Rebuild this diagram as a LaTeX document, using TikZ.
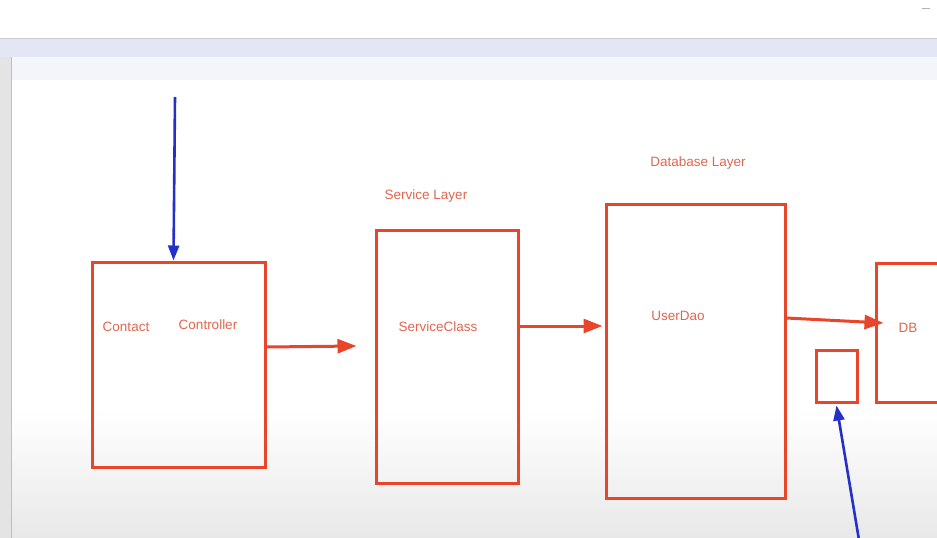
\documentclass[tikz,border=0pt]{standalone}
\usepackage{fontspec}
\setmainfont{Liberation Sans}
\usetikzlibrary{calc,arrows.meta}
\definecolor{boxred}{HTML}{E8452A}
\definecolor{txtred}{HTML}{E0664F}
\definecolor{penblue}{HTML}{2430C8}
\definecolor{barcol}{HTML}{E3E7F4}
\definecolor{stripcol}{HTML}{F4F5FB}
\definecolor{panelcol}{HTML}{E4E4E4}
\tikzset{
  layerbox/.style={draw=boxred, line width=3pt, rectangle, inner sep=0pt},
  lbl/.style={text=txtred, font=\fontsize{13.5}{15}\selectfont, inner sep=0pt},
  redarrow/.style={draw=boxred, line width=3pt, -{Triangle[length=19pt,width=14pt]}},
  bluearrow/.style={draw=penblue, line width=2.6pt, -{Triangle[length=15pt,width=11pt]}}
}
\begin{document}
\begin{tikzpicture}[x=1pt,y=-1pt]
\useasboundingbox (0,0) rectangle (937,538);
\clip (0,0) rectangle (937,538);
% window background
\fill[white] (0,0) rectangle (937,38);
\fill[barcol] (0,38) rectangle (937,57);
\fill[stripcol] (0,57) rectangle (937,80);
\fill[white] (12,80) rectangle (937,410);
\shade[top color=white, bottom color=black!9] (12,410) rectangle (937,538);
\fill[panelcol] (0,57) rectangle (11,538);
\draw[black!25, line width=0.8pt] (11.5,57) -- (11.5,538);
\draw[black!20, line width=0.6pt] (0,38) -- (937,38);
\draw[black!30, line width=1pt] (922,8) -- (930,8);
% boxes
\node[layerbox, minimum width=173pt, minimum height=205pt] (ctrl) at (178.5,364.5) {};
\node[layerbox, minimum width=142pt, minimum height=253pt] (svc) at (447,356.5) {};
\node[layerbox, minimum width=179pt, minimum height=294pt] (dao) at (695.5,351) {};
\node[layerbox, minimum width=124pt, minimum height=139pt] (db) at (938,332.5) {};
\node[layerbox, minimum width=41pt, minimum height=52pt] (small) at (836.5,376) {};
% labels
\node[lbl] (tcontact) at (126,327) {Contact};
\node[lbl] (tcontroller) at (208,325) {Controller};
\node[lbl] (tsvc) at (438,327) {ServiceClass};
\node[lbl] (tsvclayer) at (426,196) {Service Layer};
\node[lbl] (tdao) at (678,316) {UserDao};
\node[lbl] (tdblayer) at (698,163) {Database Layer};
\node[lbl] (tdb) at (908,328) {DB};
% connectors
\coordinate (top) at (175,97);
\coordinate (bottom) at (859,540);
\draw[bluearrow] (top) -- ($(ctrl.north)+(-5,0)$);
\draw[bluearrow] (bottom) -- ($(small.south)+(0,2)$);
\draw[redarrow] ($(ctrl.east)+(0,-17.5)$) -- ($(svc.west)+(-18,-10.5)$);
\draw[redarrow] ($(svc.east)+(0,-30.5)$) -- ($(dao.west)+(-2,-25)$);
\draw[redarrow] ($(dao.east)+(0,-33)$) -- ($(db.west)+(9,-9.5)$);
\end{tikzpicture}
\end{document}
